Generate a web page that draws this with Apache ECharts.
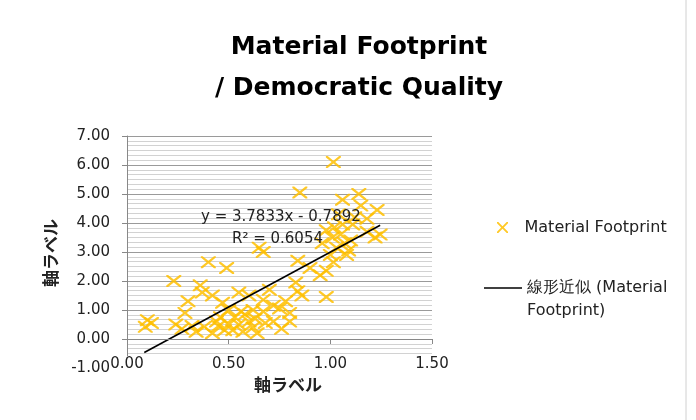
<!DOCTYPE html>
<html>
<head>
<meta charset="utf-8">
<script src="https://cdn.jsdelivr.net/npm/echarts@6/dist/echarts.min.js"></script>
<style>html,body{margin:0;padding:0;background:#fff;}#c{width:696px;height:420px;}</style>
</head>
<body>
<div id="c"></div>
<script>
// ---- data ----
const xValues = [0.09,0.10,0.12,0.23,0.24,0.27,0.285,0.30,0.32,0.34,0.36,0.37,0.38,0.40,0.42,0.42,0.44,0.46,0.47,0.49,0.48,0.50,0.52,0.53,0.55,0.55,0.57,0.58,0.60,0.60,0.62,0.63,0.64,0.65,0.67,0.67,0.67,0.68,0.70,0.72,0.72,0.75,0.76,0.78,0.80,0.80,0.83,0.84,0.84,0.85,0.86,0.90,0.95,0.98,0.98,1.00,1.015,1.015,1.01,1.02,1.03,1.05,1.06,1.06,1.07,1.09,1.10,1.11,1.12,1.14,1.15,1.18,1.18,1.23,1.245,1.22,0.96,0.98,1.04,0.50,0.56,0.45,0.62,1.08];
const yValues = [0.42,0.65,0.55,2.0,0.5,0.35,0.9,1.3,0.45,0.25,1.85,1.6,0.42,2.65,1.5,0.2,0.6,0.75,1.25,2.45,0.3,0.5,0.3,0.75,1.6,0.5,0.25,0.85,1.5,0.6,0.4,0.7,0.2,3.15,3.0,1.35,0.95,0.55,1.7,1.15,0.6,1.05,0.35,1.3,0.6,0.9,1.95,2.7,1.65,5.05,1.5,2.45,2.2,2.35,1.45,2.9,6.1,2.65,3.5,3.85,3.15,3.6,4.8,3.95,3.3,3.05,3.4,3.95,4.2,5.0,4.6,4.15,3.7,4.45,3.6,3.5,3.3,3.75,4.3,1.0,0.95,0.45,1.0,2.9];
const trendSlope = 3.7833;
const trendIntercept = -0.7892;
const trendXRange = [0.085, 1.245];
const xTicks = [0, 1.5, 0.5];   // min, max, interval
const yTicks = [-1, 7, 1];      // min, max, interval
const titleLines = ['Material Footprint', '/ Democratic Quality'];
const seriesName = 'Material Footprint';
const trendName = '線形近似 (Material Footprint)';
const trendLegendText = '\n線形近似 (Material\nFootprint)';
const trendLabel = ['y = 3.7833x - 0.7892', 'R² = 0.6054'];
const axisNameText = '軸ラベル';

const scatterData = xValues.map((x, i) => [x, yValues[i]]);
const trendData = trendXRange.map(x => [x, trendSlope * x + trendIntercept]);

const X_ICON = 'path://M0,0L12,0L50,38L88,0L100,0L100,12L62,50L100,88L100,100L88,100L50,62L12,100L0,100L0,88L38,50L0,12Z';
const MARK = '#FFC000';
const TXT = '#222';
const FONT = 'DejaVu Sans';

const chart = echarts.init(document.getElementById('c'), null, {renderer: 'canvas'});
chart.setOption({
  animation: false,
  backgroundColor: '#fff',
  title: {
    text: titleLines.join('\n'),
    left: 359, top: 27, textAlign: 'center', padding: 0,
    textStyle: {fontFamily: FONT, fontWeight: 'bold', fontSize: 25, lineHeight: 41, color: '#000'}
  },
  grid: {left: 127, right: 264, top: 136, bottom: 52, containLabel: false},
  xAxis: {
    type: 'value', min: xTicks[0], max: xTicks[1], interval: xTicks[2], z: 10,
    axisLine: {show: true, onZero: true, lineStyle: {color: '#888', width: 1}},
    axisTick: {show: true, length: 5, lineStyle: {color: '#888'}},
    splitLine: {show: false},
    axisLabel: {margin: -11, fontFamily: FONT, fontSize: 15, color: TXT, formatter: v => v.toFixed(2), showMinLabel: true, showMaxLabel: true}
  },
  yAxis: {
    type: 'value', min: yTicks[0], max: yTicks[1], interval: yTicks[2],
    axisLine: {show: true, onZero: false, lineStyle: {color: '#888', width: 1}},
    axisTick: {show: true, length: 5, lineStyle: {color: '#888'}},
    minorTick: {show: false, splitNumber: 6},
    minorSplitLine: {show: true, lineStyle: {color: '#d2d2d2', width: 1}},
    splitLine: {show: true, lineStyle: {color: '#9a9a9a', width: 1}},
    axisLabel: {margin: 17, fontFamily: FONT, fontSize: 15, color: TXT, formatter: v => v.toFixed(2)}
  },
  legend: [
    {
      data: [{name: seriesName, icon: X_ICON, itemStyle: {color: MARK}}],
      left: 497, top: 219.5, orient: 'vertical', padding: 0,
      itemWidth: 12, itemHeight: 11, selectedMode: false,
      textStyle: {fontFamily: FONT, fontSize: 16, color: TXT, padding: [0, 0, 0, 11]}
    },
    {
      data: [{name: trendName, icon: 'rect', itemStyle: {color: '#000'}}],
      left: 484, top: 253.5, orient: 'vertical', padding: 0,
      itemWidth: 38, itemHeight: 1.6, selectedMode: false,
      formatter: () => trendLegendText,
      textStyle: {fontFamily: FONT, fontSize: 16, color: TXT, lineHeight: 23}
    }
  ],
  series: [
    {
      name: seriesName, type: 'scatter', data: scatterData, z: 2,
      symbol: X_ICON, symbolSize: [15, 12],
      itemStyle: {color: MARK, opacity: 0.85}
    },
    {
      name: trendName, type: 'line', data: trendData, z: 3,
      symbol: 'none', lineStyle: {color: '#000', width: 1.6}, itemStyle: {color: '#000'}
    }
  ],
  graphic: [
    {type: 'rect', z: 5, shape: {x: 118, y: 356, width: 322, height: 16}, style: {fill: '#fff'}},
    {type: 'rect', z: 0, shape: {x: -3, y: -3, width: 689, height: 430}, style: {fill: 'none', stroke: '#d0d0d0', lineWidth: 1}},
    {type: 'text', z: 6, x: 201, y: 217, style: {text: trendLabel[0], fontFamily: FONT, fontSize: 15, fill: TXT, align: 'left', verticalAlign: 'middle'}},
    {type: 'text', z: 6, x: 323, y: 239, style: {text: trendLabel[1], fontFamily: FONT, fontSize: 15, fill: TXT, align: 'right', verticalAlign: 'middle'}},
    {type: 'text', z: 6, x: 288, y: 385, style: {text: axisNameText, fontFamily: 'Noto Sans CJK JP', fontWeight: 'bold', fontSize: 17, fill: TXT, align: 'center', verticalAlign: 'middle'}},
    {type: 'text', z: 6, x: 51, y: 253, rotation: Math.PI / 2, style: {text: axisNameText, fontFamily: 'Noto Sans CJK JP', fontWeight: 'bold', fontSize: 17, fill: TXT, align: 'center', verticalAlign: 'middle'}}
  ]
});
</script>
</body>
</html>
